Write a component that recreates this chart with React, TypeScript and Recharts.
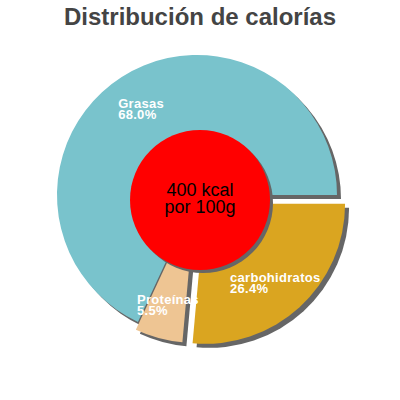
import { PieChart, Pie, Cell, Sector } from 'recharts';

const title = 'Distribución de calorías';
const names = ['Grasas', 'Proteínas', 'carbohidratos'];
const percents = [68.0, 5.5, 26.4];
const centerLines = ['400 kcal', 'por 100g'];

const colors = ['#79c3cc', '#eec593', '#daa520'];
const explode = [0, 8, 12];
const RAD = Math.PI / 180;
const FONT = "'Liberation Sans', Arial, sans-serif";

const data = names.map((name, i) => ({ name, value: percents[i], idx: i }));
const centerData = [{ name: 'kcal', value: 1 }];

let ctx: CanvasRenderingContext2D | null = null;
const textWidth = (s: string) => {
  if (!ctx) ctx = document.createElement('canvas').getContext('2d');
  if (!ctx) return s.length * 7;
  ctx.font = `bold 13px ${FONT}`;
  return ctx.measureText(s).width + s.length * 0.3;
};

const shift = (idx: number, midAngle: number) => {
  const d = explode[idx] ?? 0;
  return { dx: d * Math.cos(-midAngle * RAD), dy: d * Math.sin(-midAngle * RAD) };
};

// slice with drop shadow, pushed out along its mid angle
const SliceShape = (props: any) => {
  const { cx, cy, innerRadius, outerRadius, startAngle, endAngle, midAngle, payload } = props;
  const idx = payload?.idx ?? 0;
  const { dx, dy } = shift(idx, midAngle);
  const common = { innerRadius, outerRadius, startAngle, endAngle };
  return (
    <g>
      <Sector cx={cx + dx + 4} cy={cy + dy + 4} {...common} fill="#666666" stroke="none" />
      <Sector cx={cx + dx} cy={cy + dy} {...common} fill={colors[idx]} stroke="none" />
    </g>
  );
};

const SliceLabel = (props: any) => {
  const { cx, cy, midAngle, payload } = props;
  const idx = payload?.idx ?? 0;
  const { dx, dy } = shift(idx, midAngle);
  const r = 104;
  const px = cx + dx + r * Math.cos(-midAngle * RAD);
  const py = cy + dy + r * Math.sin(-midAngle * RAD);
  const pct = `${payload.value.toFixed(1)}%`;
  const w = Math.max(textWidth(payload.name), textWidth(pct));
  const x = px - w / 2;
  return (
    <text x={x} y={py} fill="#ffffff" fontSize={13} fontWeight="bold" fontFamily={FONT} letterSpacing={0.3}>
      <tspan x={x} y={py + 1}>{payload.name}</tspan>
      <tspan x={x} y={py + 12}>{pct}</tspan>
    </text>
  );
};

const CircleShape = (props: any) => {
  const { cx, cy, outerRadius } = props;
  return (
    <g>
      <circle cx={cx + 3} cy={cy + 3} r={outerRadius} fill="#666666" />
      <circle cx={cx} cy={cy} r={outerRadius} fill="#ff0000" />
    </g>
  );
};

const CenterLabel = (props: any) => {
  const { cx, cy } = props;
  return (
    <text x={cx} y={cy} textAnchor="middle" fill="#000000" fontSize={18} fontFamily={FONT}>
      <tspan x={cx} y={cy - 4}>{centerLines[0]}</tspan>
      <tspan x={cx} y={cy + 13}>{centerLines[1]}</tspan>
    </text>
  );
};

export default function App() {
  return (
    <div style={{ position: 'absolute', left: 0, top: 0, width: 400, height: 400, background: '#fff' }}>
      <div
        style={{
          position: 'absolute',
          left: 0,
          top: 3,
          width: 400,
          textAlign: 'center',
          fontFamily: FONT,
          fontWeight: 'bold',
          fontSize: 24,
          color: '#444444',
        }}
      >
        {title}
      </div>
      <PieChart width={400} height={400} margin={{ top: 0, right: 0, bottom: 0, left: 0 }}>
        <Pie
          data={data}
          dataKey="value"
          nameKey="name"
          cx={197}
          cy={195}
          innerRadius={0}
          outerRadius={140}
          startAngle={0}
          endAngle={360}
          stroke="none"
          shape={SliceShape}
          inactiveShape={SliceShape}
          label={SliceLabel}
          labelLine={false}
          isAnimationActive={false}
        >
          {data.map((d, i) => (
            <Cell key={d.name} fill={colors[i]} />
          ))}
        </Pie>
        <Pie
          data={centerData}
          dataKey="value"
          cx={200}
          cy={200}
          innerRadius={0}
          outerRadius={70}
          startAngle={0}
          endAngle={360}
          stroke="none"
          fill="#ff0000"
          shape={CircleShape}
          inactiveShape={CircleShape}
          label={CenterLabel}
          labelLine={false}
          isAnimationActive={false}
        />
      </PieChart>
    </div>
  );
}
